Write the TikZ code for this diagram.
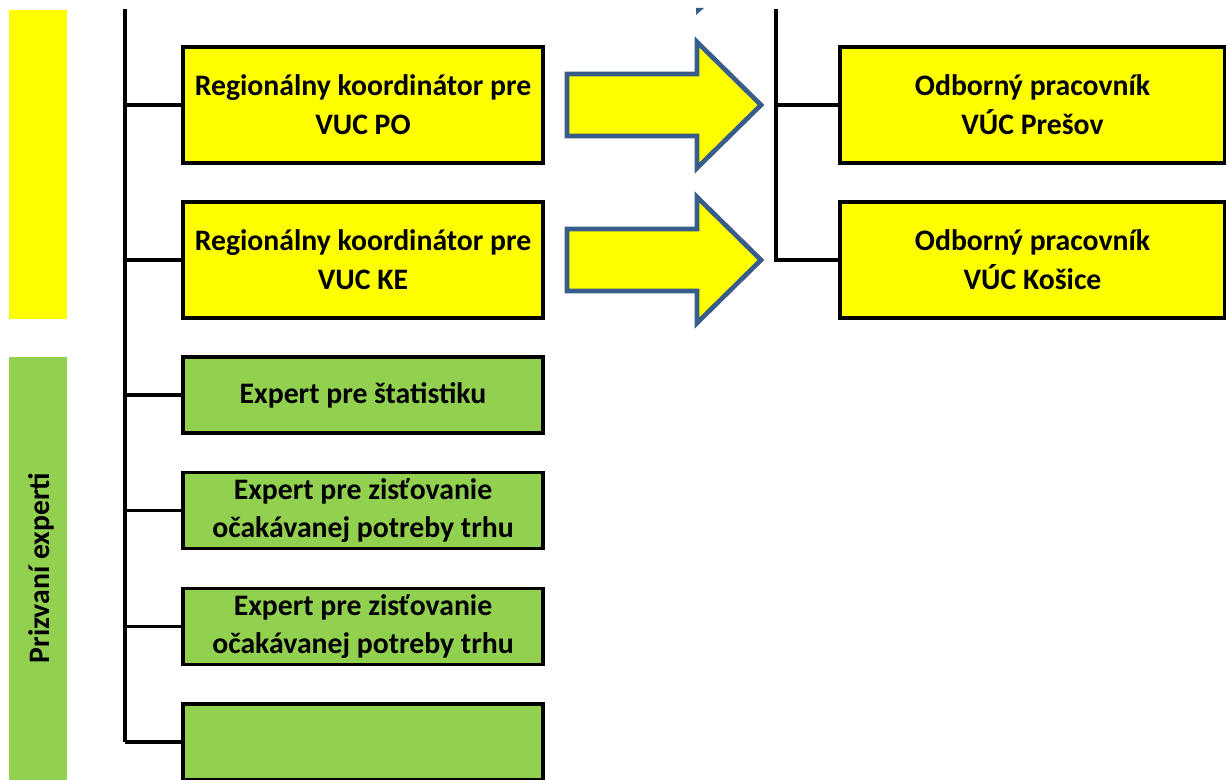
\documentclass[tikz,border=0pt]{standalone}
\usepackage{fontspec}
\setmainfont{Carlito}
\definecolor{ylw}{HTML}{FFFF00}
\definecolor{grn}{HTML}{92D050}
\definecolor{arrblue}{HTML}{385D8A}
\begin{document}
\begin{tikzpicture}[x=0.75pt,y=-0.75pt,
  txt/.style={font=\bfseries\fontsize{22.3}{29}\selectfont},
  box/.style={draw=black,line width=2.4pt,minimum width=270pt,minimum height=87pt,
    align=center,txt,inner sep=0pt},
  ybox/.style={box,fill=ylw},
  gbox/.style={box,fill=grn,minimum height=57pt},
  bar/.style={draw=none,minimum width=43.5pt,inner sep=0pt},
  conn/.style={line width=2.3pt,draw=black},
  bigarrow/.style={fill=ylw,draw=arrblue,line width=3.5pt,line join=miter}]
\useasboundingbox (0,0) rectangle (1226,780);
% side bars
\node[bar,fill=ylw,minimum height=231.75pt] (ybar) at (38,164.5) {};
\node[bar,fill=grn,minimum height=317.25pt] (gbar) at (38,568.5) {};
\node[rotate=90,txt] (glabel) at (41,568) {Prizvaní experti};
% left boxes
\node[ybox] (b1) at (363,105) {Regionálny koordinátor pre\\VUC PO};
\node[ybox] (b2) at (363,260) {Regionálny koordinátor pre\\VUC KE};
\node[gbox] (b3) at (363,395) {Expert pre štatistiku};
\node[gbox] (b4) at (363,510.5) {Expert pre zisťovanie\\očakávanej potreby trhu};
\node[gbox] (b5) at (363,626.5) {Expert pre zisťovanie\\očakávanej potreby trhu};
\node[gbox] (b6) at (363,742) {};
% right boxes
\node[ybox,minimum width=288.75pt] (r1) at (1032.5,105) {Odborný pracovník\\VÚC Prešov};
\node[ybox,minimum width=288.75pt] (r2) at (1032.5,260) {Odborný pracovník\\VÚC Košice};
% left trunk
\coordinate (ltop) at (125,9);
\coordinate (lbot) at (125,742);
\draw[conn] (ltop) -- (lbot);
\foreach \b in {b1,b2,b3,b4,b5,b6}{
  \draw[conn] (\b.west -| ltop) -- (\b.west);
}
% right trunk
\coordinate (rtop) at (776,9);
\draw[conn] (rtop) -- (rtop |- r2.west) -- (r2.west);
\draw[conn] (rtop |- r1.west) -- (r1.west);
% block arrows
\draw[bigarrow] (567,74) -- (697,74) -- (697,42) -- (761,105) -- (697,168) -- (697,136) -- (567,136) -- cycle;
\draw[bigarrow] (567,229) -- (697,229) -- (697,197) -- (761,260) -- (697,323) -- (697,291) -- (567,291) -- cycle;
% cut-off fragment at top
\fill[arrblue] (696,8) -- (704,8) -- (696,15) -- cycle;
\end{tikzpicture}
\end{document}
